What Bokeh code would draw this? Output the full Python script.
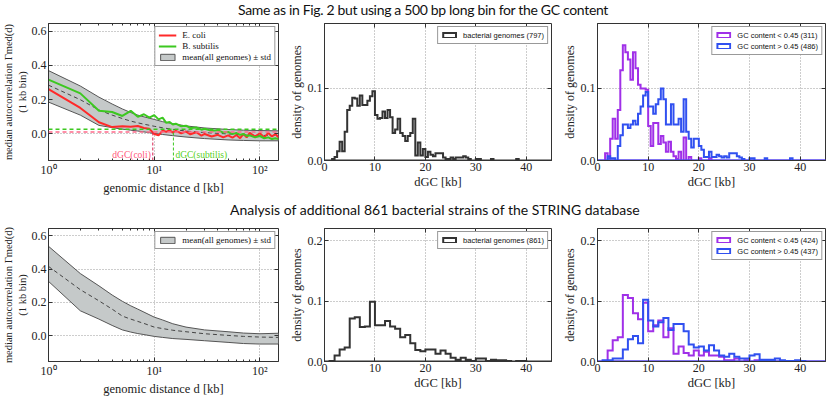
from bokeh.plotting import figure
from bokeh.models import (Div, Legend, LegendItem, LinearAxis, Span, Label,
                          FixedTicker, CustomJSTickFormatter, PrintfTickFormatter, Range1d)
from bokeh.layouts import column, row
from bokeh.embed import file_html
from bokeh.resources import INLINE

# ---------------- data ----------------
TITLE_TOP = "Same as in Fig. 2 but using a 500 bp long bin for the GC content"
TITLE_BOTTOM = "Analysis of additional 861 bacterial strains of the STRING database"

D_SERIES = [1, 2, 3, 4, 5, 6, 7, 8, 9, 10, 11, 12, 13, 14, 15, 16, 18, 20, 22, 25, 28, 30,
            35, 40, 45, 50, 55, 60, 65, 70, 75, 80, 90, 100, 110, 120, 130, 140, 150]
ECOLI = [0.262, 0.152, 0.068, 0.040, 0.045, 0.042, 0.046, 0.035, 0.030, 0.000, -0.008, 0.020,
         0.012, 0.022, 0.008, 0.018, 0.004, 0.014, -0.002, 0.010, -0.010, 0.000, -0.015, -0.005,
         -0.020, -0.008, -0.022, -0.006, -0.025, 0.000, -0.020, 0.006, -0.015, 0.004, -0.020,
         0.006, -0.015, 0.000, -0.020]
BSUBTILIS = [0.317, 0.237, 0.135, 0.128, 0.105, 0.135, 0.100, 0.115, 0.095, 0.110, 0.085, 0.095,
             0.065, 0.070, 0.055, 0.060, 0.045, 0.048, 0.035, 0.038, 0.025, 0.030, 0.018, 0.022,
             0.008, 0.012, 0.000, 0.006, -0.005, 0.000, -0.012, -0.008, -0.020, -0.012, -0.025,
             -0.020, -0.030, -0.025, -0.030]

D_BAND = [1, 2, 3, 4, 5, 6, 7, 8, 10, 12, 15, 20, 30, 50, 70, 100, 150]
TOP_MEAN = [0.285, 0.200, 0.140, 0.110, 0.090, 0.075, 0.065, 0.057, 0.045, 0.036, 0.027, 0.017,
            0.008, 0.000, -0.005, -0.008, -0.010]
TOP_UPPER = [0.370, 0.280, 0.215, 0.175, 0.146, 0.125, 0.110, 0.100, 0.085, 0.072, 0.060, 0.047,
             0.035, 0.026, 0.022, 0.020, 0.018]
TOP_LOWER = [0.186, 0.110, 0.050, 0.037, 0.028, 0.022, 0.017, 0.012, 0.003, -0.003, -0.010,
             -0.018, -0.027, -0.035, -0.038, -0.040, -0.040]
BOT_MEAN = [0.417, 0.277, 0.210, 0.160, 0.118, 0.100, 0.086, 0.074, 0.052, 0.043, 0.033, 0.024,
            0.012, 0.002, -0.004, -0.008, -0.010]
BOT_UPPER = [0.538, 0.374, 0.300, 0.245, 0.207, 0.180, 0.160, 0.142, 0.112, 0.095, 0.072, 0.052,
             0.035, 0.024, 0.016, 0.012, 0.015]
BOT_LOWER = [0.327, 0.150, 0.100, 0.062, 0.035, 0.022, 0.013, 0.007, -0.004, -0.010, -0.017,
             -0.022, -0.030, -0.040, -0.047, -0.050, -0.050]

DGC_COLI = 9.7
DGC_SUBTILIS = 15.2
LEVEL_COLI = 0.012
LEVEL_SUBTILIS = 0.028

BIN_TOP = 0.5
HIST_TOP_ALL = [0, 0, 0, 0.002, 0.005, 0.013, 0.026, 0.013, 0.040, 0.070,
                0.076, 0.087, 0.086, 0.076, 0.090, 0.077, 0.077, 0.083, 0.089, 0.096,
                0.063, 0.058, 0.059, 0.068, 0.059, 0.070, 0.060, 0.038, 0.043, 0.058,
                0.038, 0.034, 0.027, 0.034, 0.038, 0.058, 0.007, 0.025, 0.007, 0.016,
                0.005, 0.012, 0.008, 0.006, 0.010, 0.010, 0.010, 0.004, 0.002, 0.002,
                0.004, 0.002, 0.004, 0.004, 0.004, 0.006, 0.004, 0.002, 0, 0,
                0.002, 0.002, 0, 0, 0, 0, 0.002, 0, 0, 0,
                0, 0, 0, 0, 0, 0, 0.002, 0, 0, 0,
                0, 0, 0, 0, 0, 0, 0, 0, 0, 0]
HIST_TOP_LOW = [0, 0, 0, 0.010, 0.003, 0.030, 0.058, 0.030, 0.070, 0.125,
                0.160, 0.150, 0.140, 0.112, 0.150, 0.128, 0.105, 0.100, 0.100, 0.098,
                0.048, 0.020, 0.052, 0.052, 0.023, 0.034, 0.025, 0.012, 0.026, 0.012,
                0.006, 0.002, 0.012, 0, 0.032, 0, 0.005, 0, 0, 0,
                0.003, 0, 0, 0, 0.003, 0, 0, 0, 0, 0,
                0, 0, 0, 0, 0, 0, 0, 0, 0, 0,
                0, 0, 0, 0, 0, 0, 0, 0, 0, 0,
                0, 0, 0, 0, 0, 0, 0, 0, 0, 0,
                0, 0, 0, 0, 0, 0, 0, 0, 0, 0]
HIST_TOP_HIGH = [0, 0, 0, 0, 0.006, 0.003, 0.003, 0, 0.020, 0.035,
                 0.050, 0.050, 0.045, 0.050, 0.055, 0.050, 0.065, 0.075, 0.090, 0.095,
                 0.075, 0.075, 0.065, 0.078, 0.085, 0.100, 0.085, 0.050, 0.050, 0.078,
                 0.050, 0.050, 0.058, 0.040, 0.085, 0.040, 0.030, 0.018, 0.030, 0.030,
                 0.020, 0.015, 0.005, 0.005, 0.012, 0.005, 0.005, 0.008, 0.006, 0.004,
                 0.006, 0.004, 0.010, 0.010, 0.010, 0.006, 0.004, 0.002, 0, 0,
                 0.003, 0.003, 0, 0, 0, 0, 0.003, 0, 0, 0,
                 0, 0, 0, 0, 0, 0, 0.003, 0, 0, 0,
                 0, 0, 0, 0, 0, 0, 0, 0, 0, 0]

BIN_BOT = 1.0
HIST_BOT_ALL = [0, 0.001, 0.010, 0.020, 0.023, 0.071, 0.073, 0.057, 0.058, 0.099,
                0.060, 0.060, 0.067, 0.058, 0.054, 0.040, 0.044, 0.030, 0.019, 0.017,
                0.020, 0.020, 0.013, 0.018, 0.013, 0.006, 0.003, 0.006, 0.003, 0.001,
                0.005, 0.005, 0.001, 0.003, 0.002, 0.002, 0.001, 0, 0.001, 0.001,
                0, 0, 0, 0, 0]
HIST_BOT_LOW = [0, 0, 0.018, 0.035, 0.040, 0.110, 0.105, 0.080, 0.070, 0.097,
                0.050, 0.060, 0.068, 0.040, 0.055, 0.013, 0.025, 0.014, 0.010, 0.018,
                0.010, 0.016, 0.010, 0.010, 0.008, 0.002, 0.002, 0.005, 0, 0.002,
                0, 0.002, 0.002, 0, 0.002, 0, 0, 0, 0, 0,
                0.001, 0, 0, 0, 0]
HIST_BOT_HIGH = [0, 0.002, 0.002, 0.005, 0.005, 0.020, 0.037, 0.042, 0.030, 0.102,
                 0.068, 0.058, 0.065, 0.072, 0.052, 0.062, 0.062, 0.050, 0.028, 0.023,
                 0.025, 0.018, 0.027, 0.018, 0.010, 0.008, 0.013, 0.008, 0.005, 0.005,
                 0.010, 0.012, 0.003, 0.003, 0.003, 0.005, 0.002, 0.001, 0.001, 0.002,
                 0.001, 0, 0, 0, 0]

LABEL_TOP_ALL = "bacterial genomes (797)"
LABEL_TOP_LOW = "GC content < 0.45 (311)"
LABEL_TOP_HIGH = "GC content > 0.45 (486)"
LABEL_BOT_ALL = "bacterial genomes (861)"
LABEL_BOT_LOW = "GC content < 0.45 (424)"
LABEL_BOT_HIGH = "GC content > 0.45 (437)"

LOG_TICKS = [1, 10, 100]
LOG_MINOR = [2, 3, 4, 5, 6, 7, 8, 9, 20, 30, 40, 50, 60, 70, 80, 90, 200]
GAMMA_TICKS = [0.0, 0.2, 0.4, 0.6]
DGC_TICKS = [0, 10, 20, 30, 40]
DENS_TICKS_TOP = [0.0, 0.1]
DENS_TICKS_BOT = [0.0, 0.1, 0.2]

# ---------------- style ----------------
SERIF = "Liberation Serif"
SANS = "Liberation Sans"
AX = "#333333"
C_RED = "#ff2a2a"
C_GREEN = "#3cc820"
C_DARK = "#333333"
C_PURPLE = "#a030e8"
C_BLUE = "#3050f0"
C_BAND = "#c5c9c9"

Y_MIN, Y_MAX = -0.155, 0.645
X_MIN, X_MAX = 1, 150
H_MIN, H_MAX = 0, 45

blank_fmt = CustomJSTickFormatter(code="return '';")


def style_axes(p, xticker, yticker, xfmt, yfmt, xlabel, ylabel, ylabel_size="12px"):
    p.xaxis.ticker = xticker
    p.yaxis.ticker = yticker
    p.xaxis.formatter = xfmt
    p.yaxis.formatter = yfmt
    p.xaxis.axis_label = xlabel
    p.yaxis.axis_label = ylabel
    for ax in (p.xaxis[0], p.yaxis[0]):
        ax.major_tick_in = 4
        ax.major_tick_out = 0
        ax.minor_tick_in = 2
        ax.minor_tick_out = 0
        ax.axis_line_color = AX
        ax.major_tick_line_color = AX
        ax.minor_tick_line_color = AX
        ax.major_label_text_font = SERIF
        ax.major_label_text_font_size = "12px"
        ax.major_label_text_color = "#222222"
        ax.major_label_standoff = 2
        ax.axis_label_text_font = SERIF
        ax.axis_label_text_font_style = "normal"
        ax.axis_label_text_color = "#222222"
        ax.axis_label_standoff = 1
    p.xaxis.axis_label_text_font_size = "12.5px"
    p.yaxis.axis_label_text_font_size = ylabel_size
    kw = dict(formatter=blank_fmt, major_label_text_font_size="1px", major_label_standoff=0,
              major_tick_in=4, major_tick_out=0, minor_tick_in=2, minor_tick_out=0,
              axis_line_color=None, major_tick_line_color=AX, minor_tick_line_color=AX)
    p.add_layout(LinearAxis(ticker=xticker, **kw), "above")
    p.add_layout(LinearAxis(ticker=yticker, **kw), "right")
    for g in (p.xgrid[0], p.ygrid[0]):
        g.grid_line_color = "#9a9a9a"
        g.grid_line_dash = "1 2"
        g.grid_line_width = 1
    p.outline_line_color = AX
    p.outline_line_width = 1
    p.background_fill_color = "white"
    p.border_fill_color = "white"


def style_legend(leg, font, size, lh, gw, gh):
    leg.location = "top_right"
    leg.label_text_font = font
    leg.label_text_font_size = size
    leg.label_text_color = "#111111"
    leg.label_height = lh
    leg.glyph_height = gh
    leg.glyph_width = gw
    leg.label_standoff = 6
    leg.spacing = 1
    leg.padding = 3
    leg.margin = 3
    leg.border_line_color = AX
    leg.border_line_width = 1
    leg.background_fill_alpha = 1


log_fmt = CustomJSTickFormatter(code="""
    const m = {1: '10\u2070', 10: '10\u00b9', 100: '10\u00b2'};
    return m[Math.round(tick)] || '';
""")


def make_corr_fig(height, bt, bb, mean, upper, lower, with_strains):
    p = figure(width=286, height=height, x_axis_type="log",
               x_range=Range1d(X_MIN, X_MAX), y_range=Range1d(Y_MIN, Y_MAX),
               output_backend="svg", toolbar_location=None,
               min_border_left=48, min_border_right=8, min_border_top=bt, min_border_bottom=bb)
    style_axes(p, FixedTicker(ticks=LOG_TICKS, minor_ticks=LOG_MINOR),
               FixedTicker(ticks=GAMMA_TICKS), log_fmt, PrintfTickFormatter(format="%.1f"),
               "genomic distance d [kb]", "median autocorrelation \u0393med(d)\n(1 kb bin)",
               ylabel_size="10.5px")
    band = p.patch(x=D_BAND + D_BAND[::-1], y=upper + lower[::-1],
                   fill_color=C_BAND, line_color="#555555", line_width=1)
    p.line(x=D_BAND, y=mean, line_color="#444444", line_dash="4 3", line_width=1)
    items = []
    if with_strains:
        p.add_layout(Span(location=LEVEL_SUBTILIS, dimension="width", line_color=C_GREEN,
                          line_dash="4 3", line_width=1.5))
        p.add_layout(Span(location=LEVEL_COLI, dimension="width", line_color="#ff6a8a",
                          line_dash="4 3", line_width=1.5))
        r_red = p.line(x=D_SERIES, y=ECOLI, line_color=C_RED, line_width=2)
        r_green = p.line(x=D_SERIES, y=BSUBTILIS, line_color=C_GREEN, line_width=2)
        p.segment(x0=[DGC_COLI], y0=[Y_MIN], x1=[DGC_COLI], y1=[LEVEL_COLI],
                  line_color="#d8204e", line_dash="3 2", line_width=1)
        p.segment(x0=[DGC_SUBTILIS], y0=[Y_MIN], x1=[DGC_SUBTILIS], y1=[LEVEL_SUBTILIS],
                  line_color=C_GREEN, line_dash="3 2", line_width=1)
        p.add_layout(Label(x=DGC_COLI, y=Y_MIN, text="dGC(coli)", text_align="right",
                           text_baseline="bottom", x_offset=-2, y_offset=1,
                           text_font=SERIF, text_font_size="9.5px", text_color="#ff5a7a"))
        p.add_layout(Label(x=DGC_SUBTILIS, y=Y_MIN, text="dGC(subtilis)", text_align="left",
                           text_baseline="bottom", x_offset=2, y_offset=1,
                           text_font=SERIF, text_font_size="9.5px", text_color="#55d022"))
        items += [LegendItem(label="E. coli", renderers=[r_red]),
                  LegendItem(label="B. subtilis", renderers=[r_green])]
    items.append(LegendItem(label="mean(all genomes) \u00b1 std", renderers=[band]))
    leg = Legend(items=items)
    style_legend(leg, SERIF, "9px", 10, 18, 8)
    p.add_layout(leg)
    return p


def step_outline(vals, bin_w):
    xs, ys = [H_MIN], [0]
    for i, v in enumerate(vals):
        xs += [i * bin_w, (i + 1) * bin_w]
        ys += [v, v]
    xs.append(len(vals) * bin_w)
    ys.append(0)
    return xs, ys


def make_hist_fig(width, height, bl, br, bt, bb, ymax, yticks, bin_w, series):
    p = figure(width=width, height=height, x_range=Range1d(H_MIN, H_MAX),
               y_range=Range1d(0, ymax),
               output_backend="svg", toolbar_location=None,
               min_border_left=bl, min_border_right=br, min_border_top=bt, min_border_bottom=bb)
    style_axes(p, FixedTicker(ticks=DGC_TICKS), FixedTicker(ticks=yticks),
               PrintfTickFormatter(format="%d"), PrintfTickFormatter(format="%.1f"),
               "dGC [kb]", "density of genomes")
    items = []
    for vals, color, label in series:
        xs, ys = step_outline(vals, bin_w)
        r = p.patch(x=xs, y=ys, fill_color="white", fill_alpha=0.0,
                    line_color=color, line_width=2, line_join="miter")
        items.append(LegendItem(label=label, renderers=[r]))
    leg = Legend(items=items)
    style_legend(leg, SANS, "7.5px", 10, 16, 6)
    p.add_layout(leg)
    return p


H_TOP, BT_TOP, BB_TOP = 177, 3, 31
H_BOT, BT_BOT, BB_BOT = 173, 3, 27

f1 = make_corr_fig(H_TOP, BT_TOP, BB_TOP, TOP_MEAN, TOP_UPPER, TOP_LOWER, True)
f2 = make_hist_fig(273, H_TOP, 34, 8, BT_TOP, BB_TOP, 0.19, DENS_TICKS_TOP, BIN_TOP,
                   [(HIST_TOP_ALL, C_DARK, LABEL_TOP_ALL)])
f3 = make_hist_fig(271, H_TOP, 34, 5, BT_TOP, BB_TOP, 0.19, DENS_TICKS_TOP, BIN_TOP,
                   [(HIST_TOP_LOW, C_PURPLE, LABEL_TOP_LOW), (HIST_TOP_HIGH, C_BLUE, LABEL_TOP_HIGH)])
f4 = make_corr_fig(H_BOT, BT_BOT, BB_BOT, BOT_MEAN, BOT_UPPER, BOT_LOWER, False)
f5 = make_hist_fig(273, H_BOT, 34, 8, BT_BOT, BB_BOT, 0.22, DENS_TICKS_BOT, BIN_BOT,
                   [(HIST_BOT_ALL, C_DARK, LABEL_BOT_ALL)])
f6 = make_hist_fig(271, H_BOT, 34, 5, BT_BOT, BB_BOT, 0.22, DENS_TICKS_BOT, BIN_BOT,
                   [(HIST_BOT_LOW, C_PURPLE, LABEL_BOT_LOW), (HIST_BOT_HIGH, C_BLUE, LABEL_BOT_HIGH)])


def title_div(text, height, left, pad_top, line_h, spacing):
    html = ('<div style="padding-top:%dpx; margin-left:%dpx; white-space:nowrap; '
            'font-family:Lato, sans-serif; font-size:14px; line-height:%dpx; '
            'letter-spacing:%spx; color:#111;">%s</div>'
            % (pad_top, left, line_h, spacing, text))
    return Div(text=html, width=830, height=height, margin=(0, 0, 0, 0))


d1 = title_div(TITLE_TOP, 20, 238, 2, 16, -0.33)
d2 = title_div(TITLE_BOTTOM, 28, 230, 4, 18, 0)

layout = column(d1, row(f1, f2, f3), d2, row(f4, f5, f6))

with open("out.html", "w") as fh:
    fh.write(file_html(layout, INLINE))
